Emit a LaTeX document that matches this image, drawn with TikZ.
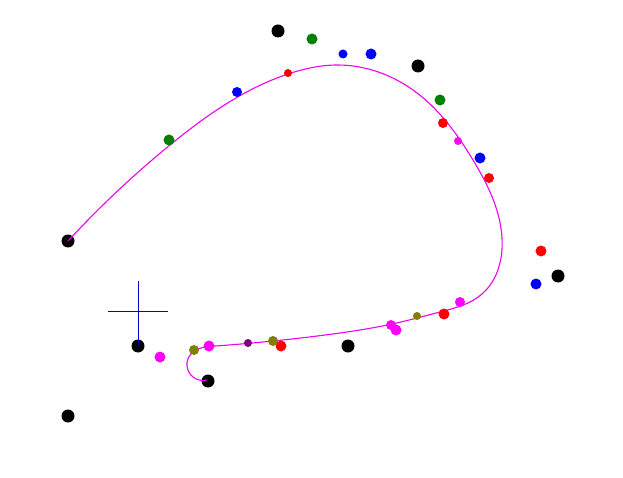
\documentclass[tikz,border=0pt]{standalone}
\usetikzlibrary{hobby}
\definecolor{olivec}{RGB}{128,128,0}
\definecolor{purplec}{RGB}{128,0,128}
\definecolor{greenc}{RGB}{0,128,0}
\definecolor{bluec}{RGB}{0,0,255}
\definecolor{redc}{RGB}{255,0,0}
\definecolor{magc}{RGB}{255,0,255}
\definecolor{curvec}{RGB}{240,0,240}
\definecolor{crossc}{RGB}{0,0,190}
\tikzset{
  big/.style={fill=black},
  curvestyle/.style={draw=curvec, line width=1.1pt, line join=round},
  crossstyle/.style={draw=crossc, line width=0.9pt},
}
\begin{document}
\begin{tikzpicture}[x=1pt,y=-1pt]
\useasboundingbox (0,0) rectangle (623,478);
% control points (black)
\foreach \p/\q in {68/241,278/31,418/66,558/276,348/346,138/346,68/416,208/381}
  \fill[big] (\p,\q) circle (6.5);
% curve
\draw[curvestyle, use Hobby shortcut] (68,241) .. (170,145) .. (288,74) .. (337,65)
  .. (413,90) .. (473,160) .. (502,238) .. (482,294) .. (440,312) .. (392,324)
  .. (340,333) .. (273,341) .. (215,346) .. (191,354) .. (187,366) .. (207,380);
% coloured points
\foreach \p/\q/\r in {169/140/5.5, 312/39/5.5, 440/100/5.5}
  \fill[greenc] (\p,\q) circle (\r);
\foreach \p/\q/\r in {237/92/5, 343/54/4.5, 371/54/5.5, 480/158/5.5, 536/284/5.5}
  \fill[bluec] (\p,\q) circle (\r);
\foreach \p/\q/\r in {288/73/4, 443/123/5, 489/178/5, 541/251/5.5, 444/314/5.5, 281/346/5.5}
  \fill[redc] (\p,\q) circle (\r);
\foreach \p/\q/\r in {458/141/4, 460/302/5, 391/325/5, 396/330/5.5, 209/346/5.5, 160/357/5.5}
  \fill[magc] (\p,\q) circle (\r);
\foreach \p/\q/\r in {417/316/4, 273/341/5, 194/350/5}
  \fill[olivec] (\p,\q) circle (\r);
\fill[purplec] (248,343) circle (4);
% cross
\coordinate (ctop) at (138,281);
\coordinate (cbot) at (138,346);
\coordinate (cl) at (108,311);
\coordinate (cr) at (168,311);
\draw[crossstyle] (ctop) -- (cbot);
\draw[crossstyle] (cl) -- (cr);
\end{tikzpicture}
\end{document}
